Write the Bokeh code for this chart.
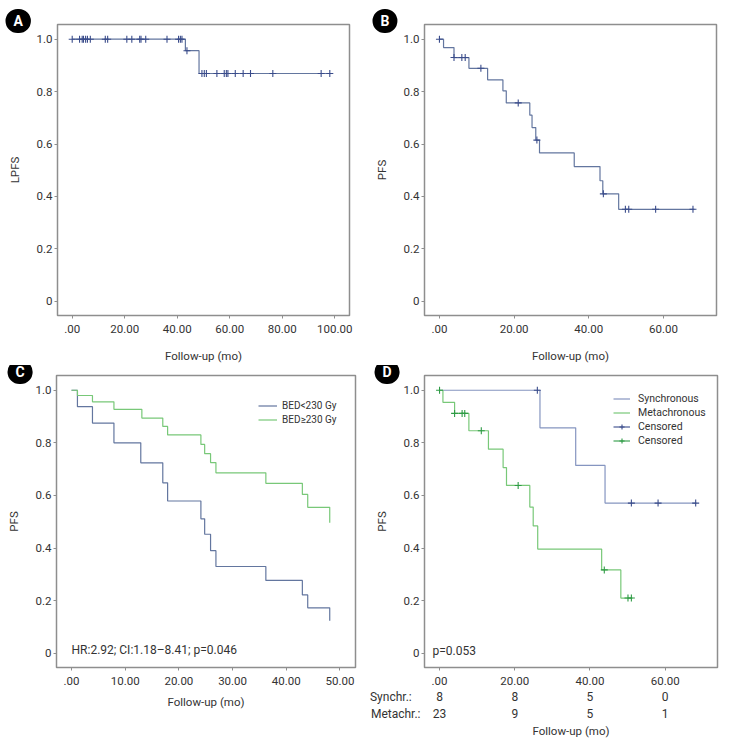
from bokeh.plotting import figure
from bokeh.models import (Range1d, FixedTicker, Label, Legend, LegendItem,
                          NumeralTickFormatter, LinearAxis, Title)
from bokeh.layouts import column, row
from bokeh.embed import file_html
from bokeh.resources import INLINE

# ---------------- data ----------------
Y_TICKS = [0, 0.2, 0.4, 0.6, 0.8, 1.0]
A_X_TICKS = [0, 20, 40, 60, 80, 100]
B_X_TICKS = [0, 20, 40, 60]
C_X_TICKS = [0, 10, 20, 30, 40, 50]
D_X_TICKS = [0, 20, 40, 60]

# Panel A (LPFS)
a_event_t = [43.1, 48.3]
a_event_s = [0.956, 0.869]
a_end_t = 98.3
a_cens_t = [0.0, 2.8, 3.8, 4.3, 5.1, 5.8, 6.9, 12.6, 13.5, 20.8, 22.7, 25.7,
            26.2, 28.0, 36.1, 40.5, 41.2, 41.8, 43.7, 49.4, 50.3, 51.1, 55.1,
            57.9, 58.7, 59.3, 62.1, 65.1, 67.9, 76.4, 94.8, 98.1]

# Panel B (PFS)
b_event_t = [1.1, 3.9, 7.9, 12.9, 17.0, 17.9, 24.2, 24.8, 25.8, 26.8, 36.1,
             43.0, 43.75, 48.0]
b_event_s = [0.968, 0.930, 0.889, 0.845, 0.803, 0.757, 0.710, 0.663, 0.615,
             0.566, 0.514, 0.460, 0.410, 0.351]
b_end_t = 68.3
b_cens_t = [0.0, 3.9, 6.0, 6.9, 11.1, 21.1, 26.1, 43.9, 49.8, 50.7, 57.9, 67.9]

# Panel C (PFS by BED)
c_groups = ["BED<230 Gy", "BED\u2265230 Gy"]
c_low_t = [1.1, 3.9, 7.9, 12.9, 17.0, 17.9, 24.1, 24.8, 25.9, 26.9, 36.2,
           43.0, 44.0, 48.1]
c_low_s = [0.9375, 0.875, 0.800, 0.724, 0.648, 0.579, 0.511, 0.4525, 0.390,
           0.330, 0.277, 0.222, 0.173, 0.124]
c_high_t = [1.1, 3.9, 7.9, 13.1, 17.0, 17.9, 24.1, 24.8, 25.9, 26.9, 36.2,
            43.0, 44.0, 48.1]
c_high_s = [0.980, 0.956, 0.9275, 0.894, 0.8625, 0.830, 0.794, 0.759, 0.725,
            0.686, 0.646, 0.604, 0.555, 0.496]
c_note = "HR:2.92; CI:1.18\u20138.41; p=0.046"

# Panel D (PFS by timing)
d_groups = ["Synchronous", "Metachronous"]
d_syn_t = [26.7, 36.2, 44.0]
d_syn_s = [0.857, 0.714, 0.571]
d_syn_end = 68.3
d_syn_cens = [26.0, 51.0, 58.1, 68.1]
d_met_t = [0.9, 4.0, 7.8, 13.0, 16.9, 17.8, 24.0, 24.9, 26.1, 43.1, 48.2]
d_met_s = [0.954, 0.912, 0.846, 0.776, 0.706, 0.638, 0.556, 0.484, 0.396,
           0.317, 0.210]
d_met_end = 51.3
d_met_cens = [0.0, 4.0, 6.0, 6.7, 11.1, 20.9, 43.8, 50.1, 51.0]
d_note = "p=0.053"
risk_times = [0, 20, 40, 60]
risk_rows = ["Synchr.:", "Metachr.:"]
risk_syn = [8, 8, 5, 0]
risk_met = [23, 9, 5, 1]

# ---------------- style ----------------
FONT = "Roboto"
TXT = "#333333"
FRAME = "#8e8e8e"
BLUE_LINE = "#63769f"
BLUE_MARK = "#3a4c8b"
GREEN_LINE = "#78c878"
GREEN_MARK = "#2e9b45"
D_BLUE_LINE = "#8595c0"
Y_RANGE = (-0.054, 1.056)
A_XR = (-5.6, 105.6)
B_XR = (-4.0, 74.2)
C_XR = (-2.8, 52.9)
D_XR = (-4.0, 73.9)


def curve(ev_t, ev_s, end_t=None):
    xs = [0.0] + list(ev_t)
    ys = [1.0] + list(ev_s)
    if end_t is not None and end_t > xs[-1]:
        xs.append(end_t)
        ys.append(ys[-1])
    return xs, ys


def surv_at(times, ev_t, ev_s):
    out = []
    for t in times:
        s = 1.0
        for et, es in zip(ev_t, ev_s):
            if et <= t + 1e-9:
                s = es
        out.append(s)
    return out


def style_axis(ax):
    ax.axis_line_color = None
    ax.major_tick_line_color = FRAME
    ax.major_tick_out = 3
    ax.major_tick_in = 0
    ax.minor_tick_line_color = None
    ax.major_label_text_font = FONT
    ax.major_label_text_font_size = "11.5px"
    ax.major_label_text_color = TXT
    ax.axis_label_text_font = FONT
    ax.axis_label_text_font_size = "11.5px"
    ax.axis_label_text_font_style = "normal"
    ax.axis_label_text_color = TXT


def make_fig(w, h, xr, bl, br, bt, bb, xticks, ylab, xl_standoff, xlabel=True):
    p = figure(width=w, height=h, x_range=Range1d(*xr),
               y_range=Range1d(*Y_RANGE), output_backend="svg",
               toolbar_location=None, min_border_left=bl, min_border_right=br,
               min_border_top=bt, min_border_bottom=bb)
    p.grid.visible = False
    p.outline_line_color = FRAME
    p.outline_line_width = 1.5
    p.background_fill_color = "white"
    p.border_fill_color = "white"
    style_axis(p.xaxis[0])
    style_axis(p.yaxis[0])
    p.xaxis.ticker = FixedTicker(ticks=xticks)
    p.xaxis.formatter = NumeralTickFormatter(format="0.00")
    p.xaxis.major_label_overrides = {0: ".00"}
    p.xaxis.major_label_standoff = 6
    if xlabel:
        p.xaxis.axis_label = "Follow-up (mo)"
        p.xaxis.axis_label_standoff = xl_standoff
    p.yaxis.ticker = FixedTicker(ticks=Y_TICKS)
    p.yaxis.formatter = NumeralTickFormatter(format="0.0")
    p.yaxis.major_label_overrides = {0: "0"}
    p.yaxis.major_label_standoff = 2
    p.yaxis.axis_label = ylab
    p.yaxis.axis_label_standoff = 12
    return p


def badge(p, letter, offset):
    p.add_layout(Title(text=letter, align="left", offset=offset,
                       vertical_align="bottom", standoff=-17,
                       text_color="white", text_font=FONT,
                       text_font_style="bold", text_font_size="14px",
                       background_fill_color="black", border_radius=13,
                       padding=dict(left=8, right=8, top=4, bottom=4)),
                 "above")


def km(p, ev_t, ev_s, end_t, cens, lc, mc, lw=1.2):
    xs, ys = curve(ev_t, ev_s, end_t)
    r = p.step(x=xs, y=ys, mode="after", line_color=lc, line_width=lw)
    m = None
    seg = None
    if cens:
        cy = surv_at(cens, ev_t, ev_s)
        m = p.scatter(x=cens, y=cy, marker="cross", size=7, line_color=mc,
                      line_width=1.1)
        seg = p.segment(x0=cens, y0=cy, x1=cens, y1=cy, line_color=mc,
                        line_width=1.1)
    return r, m, seg


# ---------------- Panel A ----------------
pA = make_fig(367, 365, A_XR, 57, 18, 24, 49, A_X_TICKS, "LPFS", 13)
km(pA, a_event_t, a_event_s, a_end_t, a_cens_t, BLUE_LINE, BLUE_MARK)
badge(pA, "A", -52)

# ---------------- Panel B ----------------
pB = make_fig(367, 365, B_XR, 57, 18, 24, 49, B_X_TICKS, "PFS", 13)
km(pB, b_event_t, b_event_s, b_end_t, b_cens_t, BLUE_LINE, BLUE_MARK)
badge(pB, "B", -52)

# ---------------- Panel C ----------------
pC = make_fig(367, 377, C_XR, 56, 12, 10, 74, C_X_TICKS, "PFS", 7)
rc1, _, _ = km(pC, c_low_t, c_low_s, None, [], BLUE_LINE, BLUE_MARK)
rc2, _, _ = km(pC, c_high_t, c_high_s, None, [], GREEN_LINE, GREEN_MARK)
legC = Legend(items=[LegendItem(label=c_groups[0], renderers=[rc1]),
                     LegendItem(label=c_groups[1], renderers=[rc2])],
              location=(202, 241), padding=0, margin=0, spacing=1,
              glyph_width=19, glyph_height=13, label_height=13,
              label_standoff=5, label_text_font=FONT,
              label_text_font_size="10px", label_text_color=TXT,
              border_line_color=None, background_fill_alpha=0)
pC.add_layout(legC)
pC.add_layout(Label(x=0, y=18, x_units="data", y_units="screen", text=c_note,
                    text_font=FONT, text_font_size="12px", text_color=TXT,
                    text_align="left", text_baseline="middle"))
badge(pC, "C", -49)

# ---------------- Panel D ----------------
pD = make_fig(367, 377, D_XR, 57, 17, 10, 75, D_X_TICKS, "PFS", 0,
              xlabel=False)
rd1, md1, sd1 = km(pD, d_syn_t, d_syn_s, d_syn_end, d_syn_cens, D_BLUE_LINE,
                   BLUE_MARK)
rd2, md2, sd2 = km(pD, d_met_t, d_met_s, d_met_end, d_met_cens, GREEN_LINE,
                   GREEN_MARK)
legD = Legend(items=[LegendItem(label=d_groups[0], renderers=[rd1]),
                     LegendItem(label=d_groups[1], renderers=[rd2]),
                     LegendItem(label="Censored", renderers=[sd1, md1]),
                     LegendItem(label="Censored", renderers=[sd2, md2])],
              location=(189, 220), padding=0, margin=0, spacing=1,
              glyph_width=17, glyph_height=13, label_height=13,
              label_standoff=8, label_text_font=FONT,
              label_text_font_size="10.5px", label_text_color=TXT,
              border_line_color=None, background_fill_alpha=0)
pD.add_layout(legD)
pD.add_layout(Label(x=8, y=17, x_units="screen", y_units="screen",
                    text=d_note, text_font=FONT, text_font_size="12px",
                    text_color=TXT, text_align="left", text_baseline="middle"))

# number-at-risk table as two extra axes under the time axis
row_pads = ["\u2003" * 5 + "\u2002", "\u2003" * 4 + "\u2002\u2009"]
for i, (name, counts) in enumerate(zip(risk_rows, [risk_syn, risk_met])):
    ax = LinearAxis(ticker=FixedTicker(ticks=[D_XR[0]] + risk_times))
    overrides = {D_XR[0]: name + row_pads[i]}
    for t, n in zip(risk_times, counts):
        overrides[t] = str(n)
    ax.major_label_overrides = overrides
    ax.axis_line_color = None
    ax.major_tick_line_color = None
    ax.minor_tick_line_color = None
    ax.major_tick_out = 0
    ax.major_tick_in = 0
    ax.major_label_standoff = 2 if i == 0 else 0
    ax.major_label_text_font = FONT
    ax.major_label_text_font_size = "12px"
    ax.major_label_text_color = TXT
    if i == 1:
        ax.axis_label = "Follow-up (mo)"
        ax.axis_label_standoff = 0
        ax.axis_label_text_font = FONT
        ax.axis_label_text_font_size = "11.5px"
        ax.axis_label_text_font_style = "normal"
        ax.axis_label_text_color = TXT
    pD.add_layout(ax, "below")
badge(pD, "D", -50)

layout = column(row(pA, pB), row(pC, pD))
open("out.html", "w").write(file_html(layout, INLINE))
